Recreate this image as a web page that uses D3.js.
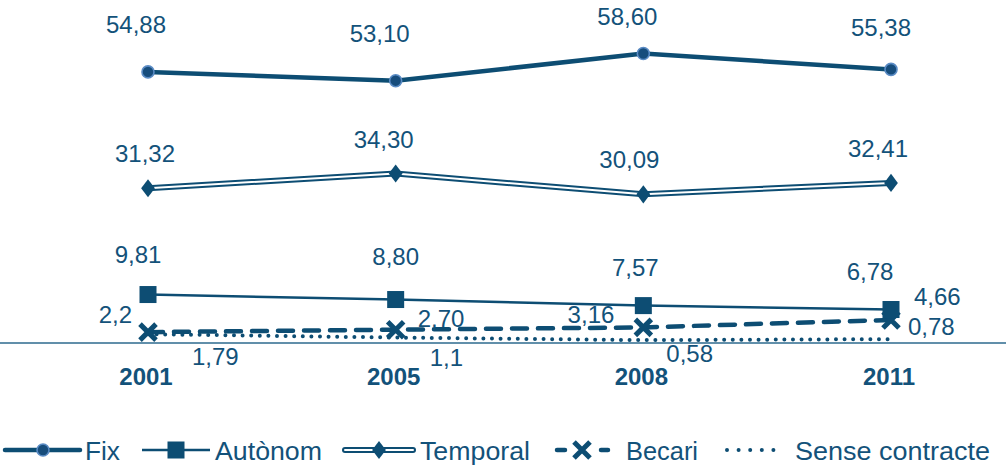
<!doctype html>
<html>
<head>
<meta charset="utf-8"/>
<title>Tipus de contracte</title>
<script src="https://d3js.org/d3.v7.min.js"></script>
<style>
  body { margin: 0; background: #fff; }
  text { font-family: "Liberation Sans", Arial, sans-serif; fill: #13527a; }
</style>
</head>
<body>
<script>
// dades
var anys = ["2001", "2005", "2008", "2011"];
var fix = [54.88, 53.10, 58.60, 55.38];
var autonom = [9.81, 8.80, 7.57, 6.78];
var temporal = [31.32, 34.30, 30.09, 32.41];
var becari = [2.2, 2.70, 3.16, 4.66];
var senseContracte = [1.79, 1.1, 0.58, 0.78];
var etiquetes = ["54,88", "53,10", "58,60", "55,38"];
var etiqTemporal = ["31,32", "34,30", "30,09", "32,41"];
var etiqAutonom = ["9,81", "8,80", "7,57", "6,78"];
var etiqBecari = ["2,2", "2,70", "3,16", "4,66"];
var etiqSense = ["1,79", "1,1", "0,58", "0,78"];
var noms = ["Fix", "Autònom", "Temporal", "Becari", "Sense contracte"];

var blau = "#0d4d73";
var W = 1006, H = 468;

var svg = d3.select("body").append("svg")
    .attr("width", W).attr("height", H);

var x = d3.scalePoint().domain(anys).range([148, 891]);
var y = d3.scaleLinear().domain([0, 60]).range([343, 46.6]);

// eix
svg.append("line")
    .attr("x1", 0).attr("x2", W)
    .attr("y1", y(0)).attr("y2", y(0))
    .attr("stroke", "#2d6a8e").attr("stroke-width", 1.5);

svg.selectAll(".any").data(anys).enter().append("text")
    .attr("x", function(d) { return x(d) - 2; })
    .attr("y", 385)
    .attr("text-anchor", "middle")
    .style("font-size", "24px").style("font-weight", "bold")
    .text(function(d) { return d; });

function punts(vals) {
    return vals.map(function(v, i) { return [x(anys[i]), y(v)]; });
}
var linia = d3.line();

// Sense contracte (punts)
svg.append("path").attr("d", linia(punts(senseContracte)))
    .attr("fill", "none").attr("stroke", blau).attr("stroke-width", 4)
    .attr("stroke-linecap", "round").attr("stroke-dasharray", "0 8.6");

// Becari (discontinua)
svg.append("path").attr("d", linia(punts(becari)))
    .attr("fill", "none").attr("stroke", blau).attr("stroke-width", 4.5)
    .attr("stroke-linecap", "round").attr("stroke-dasharray", "15 11");

// Autonom
svg.append("path").attr("d", linia(punts(autonom)))
    .attr("fill", "none").attr("stroke", blau).attr("stroke-width", 2.5);

// Temporal (doble)
svg.append("path").attr("d", linia(punts(temporal)))
    .attr("fill", "none").attr("stroke", blau).attr("stroke-width", 6);
svg.append("path").attr("d", linia(punts(temporal)))
    .attr("fill", "none").attr("stroke", "#fff").attr("stroke-width", 2);

// Fix
svg.append("path").attr("d", linia(punts(fix)))
    .attr("fill", "none").attr("stroke", blau).attr("stroke-width", 4.5);

// marcadors
function cercle(g, cx, cy) {
    g.append("circle").attr("cx", cx).attr("cy", cy).attr("r", 6)
        .attr("fill", "#174d7c").attr("stroke", "#5a8bc4").attr("stroke-width", 1.6);
}
function quadrat(g, cx, cy) {
    g.append("rect").attr("x", cx - 8.5).attr("y", cy - 8.5)
        .attr("width", 17).attr("height", 17).attr("fill", blau);
}
function rombe(g, cx, cy) {
    g.append("path").attr("d", d3.symbol(d3.symbolDiamond, 105)())
        .attr("transform", "translate(" + cx + "," + cy + ") scale(1.25,0.95)")
        .attr("fill", blau);
}
function creu(g, cx, cy) {
    g.append("path")
        .attr("d", "M" + (cx - 8) + "," + (cy - 8) + "L" + (cx + 8) + "," + (cy + 8) +
                   "M" + (cx - 8) + "," + (cy + 8) + "L" + (cx + 8) + "," + (cy - 8))
        .attr("stroke", blau).attr("stroke-width", 5).attr("fill", "none");
}

punts(becari).forEach(function(p) { creu(svg, p[0], p[1]); });
punts(autonom).forEach(function(p) { quadrat(svg, p[0], p[1]); });
punts(temporal).forEach(function(p) { rombe(svg, p[0], p[1]); });
punts(fix).forEach(function(p) { cercle(svg, p[0], p[1]); });

// etiquetes de valor
function etiquetar(vals, textos, desp, ancora) {
    svg.append("g").selectAll("text").data(vals).enter().append("text")
        .attr("x", function(d, i) { return x(anys[i]) + desp[i][0]; })
        .attr("y", function(d, i) { return y(d) + desp[i][1]; })
        .attr("text-anchor", function(d, i) { return ancora[i]; })
        .style("font-size", "24px")
        .text(function(d, i) { return textos[i]; });
}
var mig = ["middle", "middle", "middle", "middle"];
etiquetar(fix, etiquetes, [[-12, -39], [-16, -39], [-16, -29], [-10, -33]], mig);
etiquetar(temporal, etiqTemporal, [[-3, -26], [-12, -26], [-14, -26], [-13, -26]], mig);
etiquetar(autonom, etiqAutonom, [[-10, -32], [0, -35], [-8, -30], [-21, -30]], mig);
etiquetar(becari, etiqBecari, [[-16, -9], [22, -3], [-29, -4], [23, -15]], ["end", "start", "end", "start"]);
etiquetar(senseContracte, etiqSense, [[44, 31], [34, 28], [23, 22], [17, -4]], ["start", "start", "start", "start"]);

// llegenda
var ly = 450;
var lleg = svg.append("g");
var textX = [85, 215, 420, 626, 795];
var amplades = [35, 107, 110, 72, 195];
// Fix
lleg.append("line").attr("x1", 5).attr("x2", 80).attr("y1", ly).attr("y2", ly)
    .attr("stroke", blau).attr("stroke-width", 4.5).attr("stroke-linecap", "round");
cercle(lleg, 43, ly);
// Autonom
lleg.append("line").attr("x1", 142).attr("x2", 210).attr("y1", ly).attr("y2", ly)
    .attr("stroke", blau).attr("stroke-width", 2.5);
quadrat(lleg, 176, ly);
// Temporal
lleg.append("line").attr("x1", 345).attr("x2", 413).attr("y1", ly).attr("y2", ly)
    .attr("stroke", blau).attr("stroke-width", 6).attr("stroke-linecap", "round");
lleg.append("line").attr("x1", 345).attr("x2", 413).attr("y1", ly).attr("y2", ly)
    .attr("stroke", "#fff").attr("stroke-width", 2).attr("stroke-linecap", "round");
rombe(lleg, 379, ly);
// Becari
lleg.append("line").attr("x1", 557).attr("x2", 608).attr("y1", ly).attr("y2", ly)
    .attr("stroke", blau).attr("stroke-width", 4.5).attr("stroke-linecap", "round")
    .attr("stroke-dasharray", "8 36");
creu(lleg, 582, ly);
// Sense contracte
lleg.append("line").attr("x1", 727).attr("x2", 785).attr("y1", ly).attr("y2", ly)
    .attr("stroke", blau).attr("stroke-width", 4).attr("stroke-linecap", "round")
    .attr("stroke-dasharray", "0 11.6");

lleg.selectAll("text").data(noms).enter().append("text")
    .attr("x", function(d, i) { return textX[i]; })
    .attr("y", ly + 10)
    .attr("textLength", function(d, i) { return amplades[i]; })
    .attr("lengthAdjust", "spacingAndGlyphs")
    .style("font-size", "25px")
    .text(function(d) { return d; });
</script>
</body>
</html>
